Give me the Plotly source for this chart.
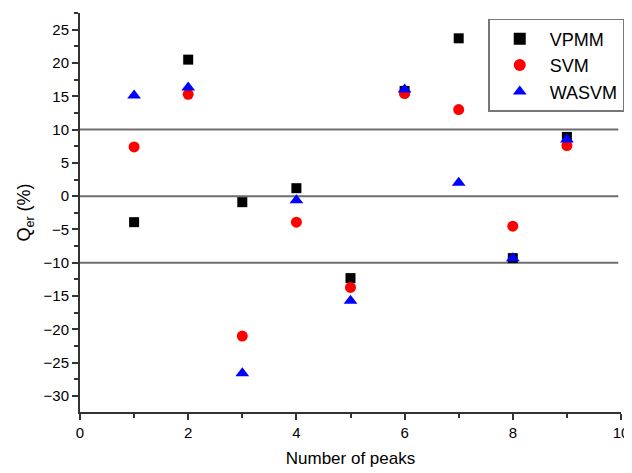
import plotly.graph_objects as go

peaks = [1, 2, 3, 4, 5, 6, 7, 8, 9]
vpmm = [-3.9, 20.5, -0.9, 1.2, -12.3, 15.8, 23.7, -9.3, 8.9]
svm = [7.4, 15.3, -21.0, -3.9, -13.7, 15.4, 13.0, -4.5, 7.6]
wasvm = [15.1, 16.3, -26.6, -0.6, -15.7, 16.0, 2.0, -9.3, 8.5]
ref_lines = [10, 0, -10]
x_ticks = [0, 2, 4, 6, 8, 10]
y_ticks = [-30, -25, -20, -15, -10, -5, 0, 5, 10, 15, 20, 25]

fig = go.Figure()
fig.add_trace(go.Scatter(x=peaks, y=vpmm, mode="markers", name="VPMM",
                         marker=dict(symbol="square", size=10, color="black")))
fig.add_trace(go.Scatter(x=peaks, y=svm, mode="markers", name="SVM",
                         marker=dict(symbol="circle", size=11, color="red")))
fig.add_trace(go.Scatter(x=peaks, y=wasvm, mode="markers", name="WASVM",
                         marker=dict(symbol="triangle-up", size=12, color="blue")))

for v in ref_lines:
    fig.add_shape(type="line", xref="x", yref="y", x0=0, x1=9.95, y0=v, y1=v,
                  line=dict(color="#6e6e6e", width=2), layer="below")

fig.update_layout(
    width=624, height=465,
    margin=dict(l=72, r=11, t=5, b=61, autoexpand=False),
    plot_bgcolor="white", paper_bgcolor="white",
    font=dict(family="Liberation Sans, Arial, sans-serif", size=15, color="black"),
    showlegend=True,
    legend=dict(x=1.006, y=0.985, xanchor="right", yanchor="top",
                bordercolor="#777777", borderwidth=1.5, bgcolor="white",
                font=dict(size=18), itemsizing="constant", itemwidth=50,
                tracegroupgap=0),
    xaxis=dict(range=[0, 10], tickvals=x_ticks, showgrid=False, zeroline=False,
               automargin=False,
               showline=True, linecolor="#333333", linewidth=2,
               ticks="outside", ticklen=6, tickwidth=2, tickcolor="#333333",
               minor=dict(ticks="outside", ticklen=4, tickwidth=1.5, dtick=1, tickcolor="#333333"),
               title=dict(text="Number of peaks", font=dict(size=17), standoff=12),
               tickfont=dict(size=15)),
    yaxis=dict(range=[-32.4, 27.5], tickvals=y_ticks, showgrid=False, zeroline=False,
               automargin=False,
               showline=True, linecolor="#333333", linewidth=2,
               ticks="outside", ticklen=6, tickwidth=2, tickcolor="#333333",
               minor=dict(ticks="outside", ticklen=4, tickwidth=1.5, dtick=2.5, tickcolor="#333333"),
               title=dict(text="Q<sub>er</sub> (%)", font=dict(size=18), standoff=8),
               tickfont=dict(size=15)),
)

fig.write_html("out.html")
